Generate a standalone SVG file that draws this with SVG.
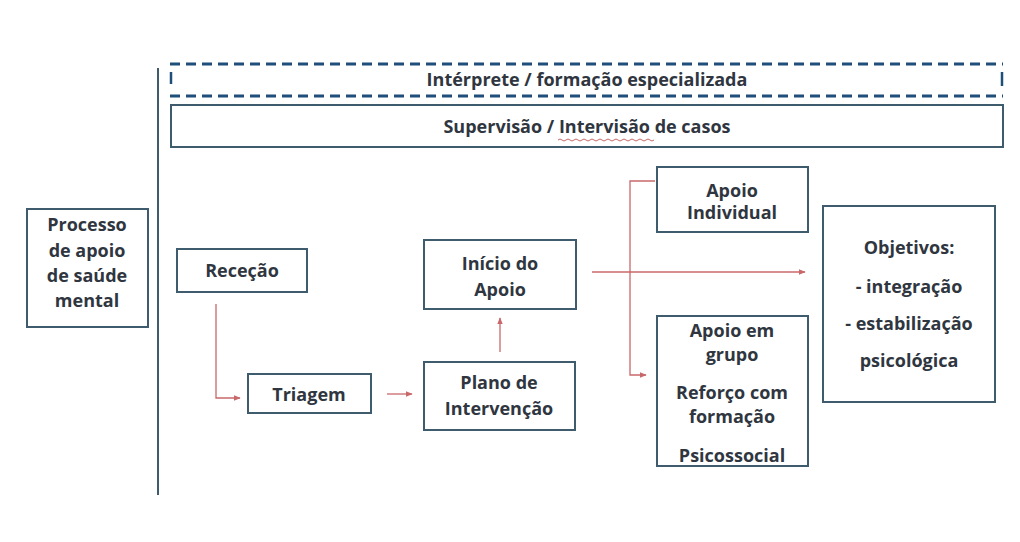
<svg xmlns="http://www.w3.org/2000/svg" width="1020" height="542" viewBox="0 0 1020 542">
<defs>
<style>
.box{fill:#ffffff;stroke:#3f5b6e;stroke-width:2}
.t{font-family:"Open Sans","Liberation Sans",sans-serif;font-weight:bold;font-size:18px;fill:#2f3640;text-anchor:middle}
.c{fill:none;stroke:#c9686a;stroke-width:1.3}
</style>
<marker id="ah" viewBox="0 0 10 10" refX="9" refY="5" markerWidth="7" markerHeight="7" orient="auto" markerUnits="userSpaceOnUse">
<path d="M0,1 L10,5 L0,9 z" fill="#c9686a"/>
</marker>
</defs>
<rect width="1020" height="542" fill="#ffffff"/>
<line x1="158" y1="68" x2="158" y2="495" stroke="#3f5b6e" stroke-width="2"/>

<g id="interprete">
<line x1="170" y1="64" x2="1003" y2="64" stroke="#1f4e79" stroke-width="3" stroke-dasharray="10,6"/>
<line x1="170" y1="96" x2="1003" y2="96" stroke="#1f4e79" stroke-width="3" stroke-dasharray="10,6"/>
<line x1="171" y1="72" x2="171" y2="84" stroke="#1f4e79" stroke-width="2.5"/>
<line x1="1002" y1="72" x2="1002" y2="86" stroke="#1f4e79" stroke-width="2.5"/>
<text class="t" x="587" y="86">Intérprete / formação especializada</text>
</g>

<g id="supervisao">
<rect class="box" x="171" y="105" width="832" height="42"/>
<text class="t" x="587" y="133">Supervisão / Intervisão de casos</text>
<path d="M558,140 q2,-2 4,0 t4,0 t4,0 t4,0 t4,0 t4,0 t4,0 t4,0 t4,0 t4,0 t4,0 t4,0 t4,0 t4,0 t4,0 t4,0 t4,0 t4,0 t4,0 t4,0 t4,0 t4,0 t4,0 t4,0" fill="none" stroke="#c9686a" stroke-width="1"/>
</g>

<g id="processo">
<rect class="box" x="27" y="209" width="121" height="118"/>
<text class="t" x="87" y="231">Processo</text>
<text class="t" x="87" y="257">de apoio</text>
<text class="t" x="87" y="282">de saúde</text>
<text class="t" x="87" y="307">mental</text>
</g>

<g id="rececao">
<rect class="box" x="177" y="249" width="130" height="43"/>
<text class="t" x="242" y="277">Receção</text>
</g>

<g id="triagem">
<rect class="box" x="248" y="374" width="123" height="39"/>
<text class="t" x="309" y="401">Triagem</text>
</g>

<g id="plano">
<rect class="box" x="424" y="362" width="151" height="68"/>
<text class="t" x="499" y="389">Plano de</text>
<text class="t" x="499" y="415">Intervenção</text>
</g>

<g id="inicio">
<rect class="box" x="424" y="240" width="152" height="69"/>
<text class="t" x="500" y="270">Início do</text>
<text class="t" x="500" y="296">Apoio</text>
</g>

<g id="individual">
<rect class="box" x="657" y="167" width="151" height="65"/>
<text class="t" x="732" y="197">Apoio</text>
<text class="t" x="732" y="219">Individual</text>
</g>

<g id="grupo">
<rect class="box" x="657" y="316" width="151" height="150"/>
<text class="t" x="732" y="337">Apoio em</text>
<text class="t" x="732" y="361">grupo</text>
<text class="t" x="732" y="399">Reforço com</text>
<text class="t" x="732" y="423">formação</text>
<text class="t" x="732" y="462">Psicossocial</text>
</g>

<g id="objetivos">
<rect class="box" x="823" y="206" width="172" height="196"/>
<text class="t" x="909" y="254">Objetivos:</text>
<text class="t" x="909" y="293">- integração</text>
<text class="t" x="909" y="330">- estabilização</text>
<text class="t" x="909" y="367">psicológica</text>
</g>

<g id="connectors">
<path class="c" d="M216,304 V398 H240" marker-end="url(#ah)"/>
<path class="c" d="M387,394 H412" marker-end="url(#ah)"/>
<path class="c" d="M500,352 V318" marker-end="url(#ah)"/>
<path class="c" d="M592,272 H805" marker-end="url(#ah)"/>
<path class="c" d="M655,181 H630 V375 H646" marker-end="url(#ah)"/>
</g>
</svg>
